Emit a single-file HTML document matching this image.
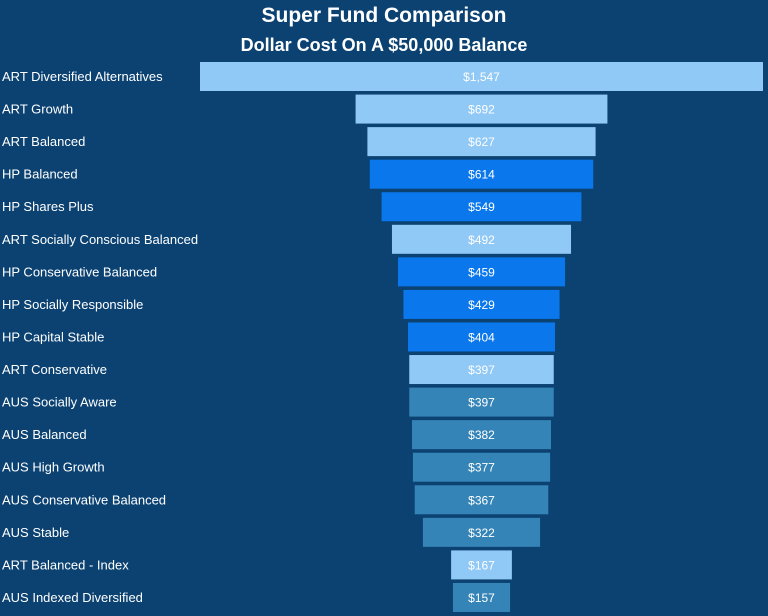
<!DOCTYPE html>
<html><head><meta charset="utf-8"><style>
body{margin:0;background:#0b4272;}
svg{display:block;font-family:"Liberation Sans",sans-serif;}
</style></head><body>
<svg id="chart" width="768" height="616" viewBox="0 0 768 616">
<rect width="768" height="616" fill="#0b4272"/>
<text x="384" y="22" text-anchor="middle" fill="#fff" font-size="21" font-weight="bold">Super Fund Comparison</text>
<text x="384" y="51" text-anchor="middle" fill="#fff" font-size="18" font-weight="bold">Dollar Cost On A $50,000 Balance</text>
<g id="bars"></g>
</svg>
<script>
const categories=["ART Diversified Alternatives","ART Growth","ART Balanced","HP Balanced","HP Shares Plus","ART Socially Conscious Balanced","HP Conservative Balanced","HP Socially Responsible","HP Capital Stable","ART Conservative","AUS Socially Aware","AUS Balanced","AUS High Growth","AUS Conservative Balanced","AUS Stable","ART Balanced - Index","AUS Indexed Diversified"];
const values=[1547,692,627,614,549,492,459,429,404,397,397,382,377,367,322,167,157];
const colors={ART:"#90c8f6",HP:"#0a78ec",AUS:"#3584b8"};
const cx=481.5, maxW=563, y0=62, step=32.56, bh=29;
const xw=v=>v/Math.max(...values)*maxW;
const g=document.getElementById('bars');
const NS="http://www.w3.org/2000/svg";
categories.forEach((c,i)=>{
  const y=y0+i*step, w=xw(values[i]);
  const r=document.createElementNS(NS,'rect');
  
  
  r.setAttribute('x',cx-w/2);r.setAttribute('y',y);r.setAttribute('width',w);r.setAttribute('height',bh);
  r.setAttribute('fill',colors[c.split(' ')[0]]);
  g.appendChild(r);
  const t=document.createElementNS(NS,'text');
  
  
  t.setAttribute('x',cx);t.setAttribute('y',y+bh/2+4.5);t.setAttribute('text-anchor','middle');
  t.setAttribute('fill','#fff');t.setAttribute('font-size','12');
  t.textContent='$'+values[i].toLocaleString('en-US');
  g.appendChild(t);
  const l=document.createElementNS(NS,'text');
  
  
  l.setAttribute('x',2);l.setAttribute('y',y+bh/2+4.5);
  l.setAttribute('fill','#fff');l.setAttribute('font-size','13');
  l.textContent=c;
  g.appendChild(l);
});
</script>
</body></html>
